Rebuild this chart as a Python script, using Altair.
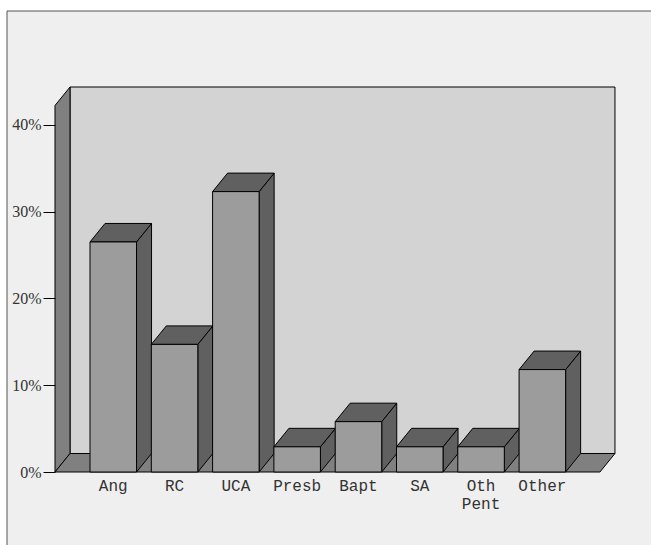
import altair as alt
import pandas as pd

# Religious affiliation shares (%)
categories = ["Ang", "RC", "UCA", "Presb", "Bapt", "SA", "Oth\nPent", "Other"]
shares = [26.5, 14.7, 32.3, 2.9, 5.8, 2.9, 2.9, 11.8]
tick_values = [0, 10, 20, 30, 40]

# Geometry of the pseudo-3D box (x in bar slots, y in percent)
BAR_START = 0.571   # left edge of first bar
BAR_W = 0.759       # bar width
DX = 0.245          # depth shift to the right
DY = 2.13           # depth shift upward
FLOOR_END = 8.89    # right end of the front floor edge
WALL_TOP = 42.22    # front top of the side wall
X_MAX = 9.152
Y_MAX = 44.35

FRONT = "#9c9c9c"
DARK = "#606060"
WALL = "#808080"
BACK = "#d3d3d3"

xs = alt.Scale(domain=[0, X_MAX], nice=False, zero=False)
ys = alt.Scale(domain=[0, Y_MAX], nice=False, zero=False)

# tables derived from the values
front_rows, side_rows, top_rows = [], [], []
for i, (cat, v) in enumerate(zip(categories, shares)):
    x0 = BAR_START + i
    x1 = x0 + BAR_W
    front_rows.append({"cat": cat, "x0": x0, "x1": x1, "xc": (x0 + x1) / 2, "v": v, "base": 0})
    side_rows += [
        {"cat": cat, "x": x1, "y": v, "y2": 0},
        {"cat": cat, "x": x1 + DX, "y": v + DY, "y2": DY},
    ]
    top_rows += [
        {"cat": cat, "y": v, "x": x0, "x2": x1},
        {"cat": cat, "y": v + DY, "x": x0 + DX, "x2": x1 + DX},
    ]
front = pd.DataFrame(front_rows)
side = pd.DataFrame(side_rows)
top = pd.DataFrame(top_rows)

left_wall = pd.DataFrame({"x": [0, DX], "y": [WALL_TOP, WALL_TOP + DY], "y2": [0, DY]})
floor = pd.DataFrame({"y": [0, DY], "x": [0, DX], "x2": [FLOOR_END, FLOOR_END + DX]})
back_wall = pd.DataFrame({"x": [DX], "x2": [FLOOR_END + DX], "y": [DY], "y2": [WALL_TOP + DY]})

yaxis = alt.Axis(
    values=tick_values, labelExpr="datum.value + '%'", domain=False, grid=False,
    tickColor="black", tickSize=12, tickWidth=1, labelPadding=2,
    labelFont="Liberation Serif", labelFontSize=16, labelColor="#333333", title=None,
    zindex=1,
)


def X(field):
    return alt.X(field, scale=xs, axis=None, stack=None)


def Y(field):
    return alt.Y(field, scale=ys, axis=yaxis, stack=None)


panel = alt.Chart(pd.DataFrame({"a": [0]})).mark_rect(
    fill="#efefef", stroke="#555555", strokeWidth=1
).encode(x=alt.value(-48), x2=alt.value(620), y=alt.value(-76), y2=alt.value(470))

back = alt.Chart(back_wall).mark_rect(fill=BACK, stroke="black", strokeWidth=1).encode(
    x=X("x:Q"), x2="x2:Q", y=Y("y:Q"), y2="y2:Q",
)

lwall = alt.Chart(left_wall).mark_area(fill=WALL, stroke="black", strokeWidth=1, orient="vertical").encode(
    x=X("x:Q"), y=Y("y:Q"), y2="y2:Q",
)

flr = alt.Chart(floor).mark_area(fill=WALL, stroke="black", strokeWidth=1, orient="horizontal").encode(
    y=Y("y:Q"), x=X("x:Q"), x2="x2:Q",
)

sides = alt.Chart(side).mark_area(fill=DARK, stroke="black", strokeWidth=1, orient="vertical").encode(
    x=X("x:Q"), y=Y("y:Q"), y2="y2:Q", detail="cat:N",
)

tops = alt.Chart(top).mark_area(fill=DARK, stroke="black", strokeWidth=1, orient="horizontal").encode(
    y=Y("y:Q"), x=X("x:Q"), x2="x2:Q", detail="cat:N",
)

fronts = alt.Chart(front).mark_rect(fill=FRONT, stroke="black", strokeWidth=1).encode(
    x=X("x0:Q"), x2="x1:Q", y=Y("base:Q"), y2="v:Q",
)

labels = alt.Chart(front).mark_text(
    font="Liberation Mono", fontSize=16, baseline="top", align="center",
    lineBreak="\n", lineHeight=17.5, color="#333333", dy=6,
).encode(
    x=X("xc:Q"), y=Y("base:Q"), text="cat:N",
)

chart = alt.layer(panel, back, lwall, flr, sides, tops, fronts, labels).properties(
    width=561, height=385,
    autosize=alt.AutoSizeParams(type="none"),
    padding={"left": 55, "top": 87, "right": 35, "bottom": 73},
    background="white",
).configure_view(stroke=None)

chart.save("out.html", embed_options={"renderer": "svg", "actions": False})
